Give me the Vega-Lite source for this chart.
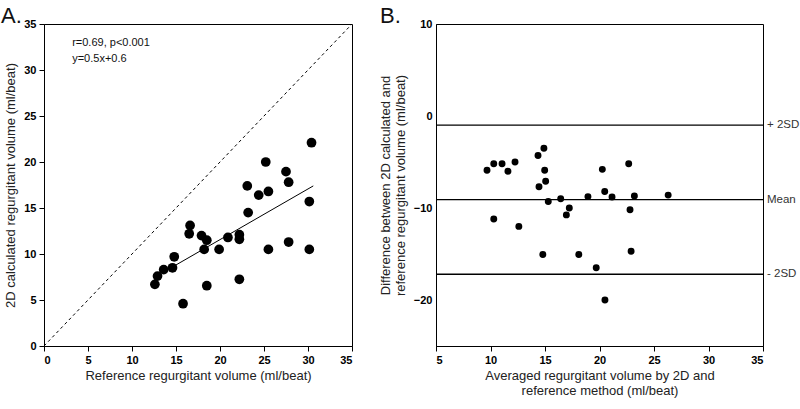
{
  "$schema": "https://vega.github.io/schema/vega-lite/v6.json",
  "background": "white",
  "padding": {"left": 0, "top": 4, "right": 0, "bottom": 0},
  "spacing": 23,
  "config": {
    "font": "Liberation Sans",
    "view": {"stroke": "black", "strokeWidth": 1},
    "axis": {
      "grid": false,
      "domainColor": "black",
      "tickColor": "black",
      "labelColor": "black",
      "titleColor": "#222222",
      "labelFont": "Liberation Sans",
      "titleFont": "Liberation Sans",
      "labelFontSize": 11,
      "labelFontWeight": "bold",
      "titleFontSize": 13,
      "titleFontWeight": "normal",
      "tickSize": 5
    },
    "title": {"fontSize": 22, "fontWeight": "normal", "anchor": "start", "frame": "group", "color": "#111111", "font": "Liberation Sans"}
  },
  "datasets": {
    "left": [
      {"ref": 25.2, "calc": 20.0}, {"ref": 27.5, "calc": 18.95}, {"ref": 27.8, "calc": 17.8},
      {"ref": 23.1, "calc": 17.4}, {"ref": 24.4, "calc": 16.4}, {"ref": 25.5, "calc": 16.8},
      {"ref": 30.15, "calc": 15.7}, {"ref": 23.2, "calc": 14.5}, {"ref": 16.6, "calc": 13.1},
      {"ref": 16.5, "calc": 12.2}, {"ref": 17.9, "calc": 12.0}, {"ref": 18.5, "calc": 11.5},
      {"ref": 20.9, "calc": 11.8}, {"ref": 22.2, "calc": 12.1}, {"ref": 22.2, "calc": 11.6},
      {"ref": 18.2, "calc": 10.5}, {"ref": 19.9, "calc": 10.5}, {"ref": 25.5, "calc": 10.5},
      {"ref": 27.8, "calc": 11.3}, {"ref": 30.15, "calc": 10.5}, {"ref": 14.8, "calc": 9.7},
      {"ref": 14.6, "calc": 8.5}, {"ref": 13.6, "calc": 8.3}, {"ref": 12.9, "calc": 7.6},
      {"ref": 12.6, "calc": 6.7}, {"ref": 22.2, "calc": 7.25}, {"ref": 18.5, "calc": 6.55},
      {"ref": 15.8, "calc": 4.6}, {"ref": 30.4, "calc": 22.1}
    ],
    "diag": [{"ref": 0, "calc": 0}, {"ref": 35, "calc": 35}],
    "fit": [{"ref": 14.8, "calc": 8.7}, {"ref": 30.6, "calc": 17.4}],
    "notes": [
      {"ref": 3.2, "calc": 32.9, "text": "r=0.69, p<0.001"},
      {"ref": 3.2, "calc": 31.2, "text": "y=0.5x+0.6"}
    ],
    "right": [
      {"avg": 9.68, "diff": -5.9}, {"avg": 10.3, "diff": -5.2}, {"avg": 11.06, "diff": -5.2},
      {"avg": 11.6, "diff": -6.0}, {"avg": 12.25, "diff": -5.0}, {"avg": 14.36, "diff": -4.3},
      {"avg": 14.9, "diff": -3.5}, {"avg": 14.97, "diff": -5.9}, {"avg": 15.06, "diff": -7.1},
      {"avg": 14.45, "diff": -7.7}, {"avg": 15.3, "diff": -9.3}, {"avg": 16.44, "diff": -9.0},
      {"avg": 17.23, "diff": -10.0}, {"avg": 16.96, "diff": -10.75}, {"avg": 18.94, "diff": -8.76},
      {"avg": 20.26, "diff": -5.8}, {"avg": 20.48, "diff": -8.2}, {"avg": 21.15, "diff": -8.8},
      {"avg": 22.68, "diff": -5.2}, {"avg": 23.2, "diff": -8.7}, {"avg": 22.8, "diff": -10.2},
      {"avg": 26.3, "diff": -8.6}, {"avg": 10.3, "diff": -11.2}, {"avg": 12.6, "diff": -12.0},
      {"avg": 14.8, "diff": -15.05}, {"avg": 18.1, "diff": -15.05}, {"avg": 19.7, "diff": -16.5},
      {"avg": 22.9, "diff": -14.7}, {"avg": 20.5, "diff": -20.0}
    ],
    "sd": [
      {"diff": -1.0, "label": "+ 2SD"},
      {"diff": -9.1, "label": "Mean"},
      {"diff": -17.2, "label": "- 2SD"}
    ]
  },
  "hconcat": [
    {
      "width": 308,
      "height": 322,
      "title": {"text": "A.", "dx": -43, "dy": 13, "offset": 3},
      "layer": [
        {
          "data": {"name": "diag"},
          "mark": {"type": "line", "strokeDash": [3, 3], "color": "black", "strokeWidth": 1},
          "encoding": {
            "x": {"field": "ref", "type": "quantitative", "scale": {"domain": [0, 35], "nice": false},
                  "axis": {"values": [0, 5, 10, 15, 20, 25, 30, 35], "title": "Reference regurgitant volume (ml/beat)", "labelPadding": 3, "titlePadding": 4}},
            "y": {"field": "calc", "type": "quantitative", "scale": {"domain": [0, 35], "nice": false},
                  "axis": {"values": [0, 5, 10, 15, 20, 25, 30, 35], "title": "2D calculated regurgitant volume (ml/beat)", "labelPadding": 3, "titlePadding": 6}}
          }
        },
        {
          "data": {"name": "fit"},
          "mark": {"type": "line", "color": "black", "strokeWidth": 1},
          "encoding": {
            "x": {"field": "ref", "type": "quantitative"},
            "y": {"field": "calc", "type": "quantitative"}
          }
        },
        {
          "data": {"name": "left"},
          "mark": {"type": "point", "filled": true, "shape": "circle", "size": 95, "color": "black", "opacity": 1},
          "encoding": {
            "x": {"field": "ref", "type": "quantitative"},
            "y": {"field": "calc", "type": "quantitative"}
          }
        },
        {
          "data": {"name": "notes"},
          "mark": {"type": "text", "align": "left", "baseline": "middle", "fontSize": 11, "color": "#111111"},
          "encoding": {
            "x": {"field": "ref", "type": "quantitative"},
            "y": {"field": "calc", "type": "quantitative"},
            "text": {"field": "text"}
          }
        }
      ]
    },
    {
      "width": 327,
      "height": 322,
      "title": {"text": "B.", "dx": -56, "dy": 13, "offset": 3},
      "layer": [
        {
          "data": {"name": "sd"},
          "mark": {"type": "rule", "color": "black", "strokeWidth": 1.3},
          "encoding": {
            "y": {"field": "diff", "type": "quantitative", "scale": {"domain": [-25, 10], "nice": false, "zero": false},
                  "axis": {"values": [-20, -10, 0, 10], "ticks": false, "labelPadding": 4, "titlePadding": 6,
                           "title": ["Difference between 2D calculated and", "reference regurgitant volume (ml/beat)"]}}
          }
        },
        {
          "data": {"name": "sd"},
          "mark": {"type": "text", "align": "left", "baseline": "middle", "dx": 4, "fontSize": 11.5, "color": "#333333"},
          "encoding": {
            "x": {"datum": 35, "type": "quantitative", "scale": {"domain": [5, 35], "nice": false, "zero": false}},
            "y": {"field": "diff", "type": "quantitative"},
            "text": {"field": "label"}
          }
        },
        {
          "data": {"name": "right"},
          "mark": {"type": "point", "filled": true, "shape": "circle", "size": 48, "color": "black", "opacity": 1},
          "encoding": {
            "x": {"field": "avg", "type": "quantitative", "scale": {"domain": [5, 35], "nice": false, "zero": false},
                  "axis": {"values": [5, 10, 15, 20, 25, 30, 35], "labelPadding": 3, "titlePadding": 4,
                           "title": ["Averaged regurgitant volume by 2D and", "reference method (ml/beat)"]}},
            "y": {"field": "diff", "type": "quantitative"}
          }
        }
      ]
    }
  ]
}
